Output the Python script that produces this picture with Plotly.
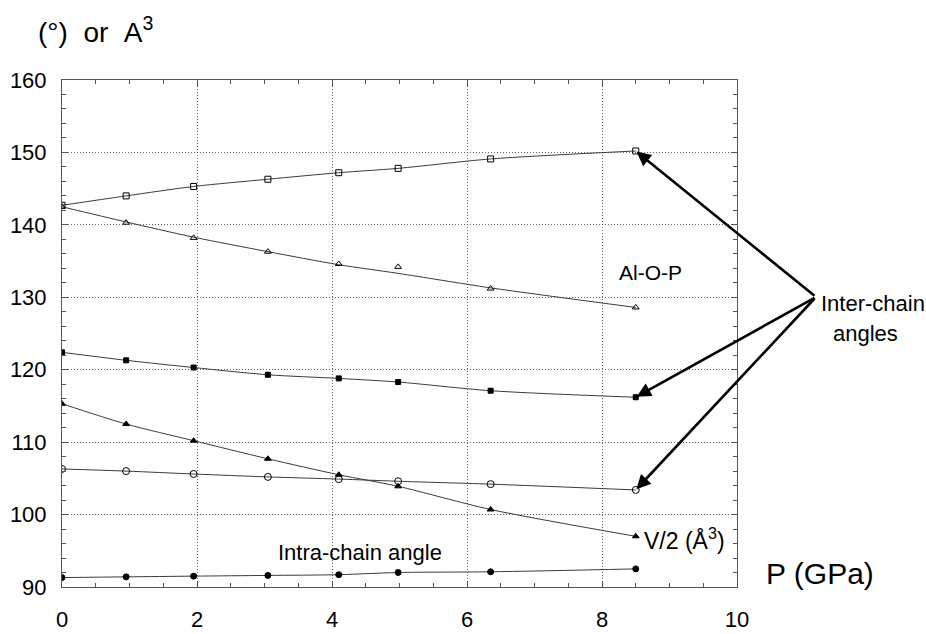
import plotly.graph_objects as go

# Pressure (GPa)
pressure = [0, 0.95, 1.95, 3.05, 4.1, 4.98, 6.35, 8.5]

# Series values (markers)
inter_open_sq = [142.7, 144.0, 145.3, 146.3, 147.2, 147.8, 149.1, 150.2]
alop_open_tri = [142.5, 140.3, 138.2, 136.3, 134.6, 134.2, 131.2, 128.6]
inter_fill_sq = [122.4, 121.3, 120.3, 119.3, 118.8, 118.3, 117.1, 116.2]
v_half = [115.3, 112.5, 110.2, 107.7, 105.5, 103.9, 100.7, 97.0]
inter_open_circ = [106.3, 106.0, 105.6, 105.2, 104.9, 104.6, 104.2, 103.4]
intra_angle = [91.3, 91.4, 91.5, 91.6, 91.7, 92.0, 92.1, 92.5]

# Fitted curve values (where they differ from markers)
alop_line = [142.5, 140.4, 138.3, 136.3, 134.5, 133.3, 131.3, 128.6]

x_ticks = [0, 2, 4, 6, 8, 10]
y_ticks = [90, 100, 110, 120, 130, 140, 150, 160]

series = [
    (inter_open_sq, inter_open_sq, "square-open", 6),
    (alop_open_tri, alop_line, "triangle-up-open", 6),
    (inter_fill_sq, inter_fill_sq, "square", 5),
    (v_half, v_half, "triangle-up", 6),
    (inter_open_circ, inter_open_circ, "circle-open", 7),
    (intra_angle, intra_angle, "circle", 6),
]

fig = go.Figure()
for vals, line_vals, sym, sz in series:
    fig.add_trace(go.Scatter(
        x=pressure, y=line_vals, mode="lines",
        line=dict(color="#3a3a3a", width=1, shape="spline", smoothing=0.8),
        showlegend=False, hoverinfo="skip",
    ))
    fig.add_trace(go.Scatter(
        x=pressure, y=vals, mode="markers",
        marker=dict(symbol=sym, size=sz, color="black",
                    line=dict(color="black", width=1)),
        showlegend=False, hoverinfo="skip",
    ))

axis_common = dict(
    showline=True, linecolor="#555555", linewidth=1, mirror="ticks",
    ticks="inside", ticklen=6, tickcolor="#555555",
    showgrid=True, gridcolor="#666666", gridwidth=1, griddash="1px,2px",
    zeroline=False, automargin=False,
    tickfont=dict(family="Liberation Sans", size=22, color="black"),
)

fig.update_xaxes(range=[0, 10], tickvals=x_ticks, ticktext=[str(v) for v in x_ticks],
                 minor=dict(dtick=0.5, tick0=0, ticks="inside", ticklen=4, tickcolor="#555555", showgrid=False),
                 ticklabelstandoff=13, **axis_common)
fig.update_yaxes(range=[90, 160], tickvals=y_ticks, ticktext=[str(v) for v in y_ticks],
                 minor=dict(dtick=2, tick0=90, ticks="inside", ticklen=4, tickcolor="#555555", showgrid=False),
                 ticklabelstandoff=10, **axis_common)

L, R, T, B = 62, 189, 80, 47
W, H = 926, 634
pw, ph = W - L - R, H - T - B

def px(xp):
    return (xp - L) / pw

def py(yp):
    return (H - B - yp) / ph

annotations = [
    dict(text="(°)&nbsp;&nbsp;or&nbsp;&nbsp;A<sup>3</sup>", x=px(36), y=py(30), xref="paper", yref="paper",
         xanchor="left", yanchor="middle", showarrow=False,
         font=dict(family="Liberation Sans", size=28, color="black")),
    dict(text="P (GPa)", x=px(764), y=py(573), xref="paper", yref="paper",
         xanchor="left", yanchor="middle", showarrow=False,
         font=dict(family="Liberation Sans", size=30, color="black")),
    dict(text="Al-O-P", x=px(617), y=py(272), xref="paper", yref="paper",
         xanchor="left", yanchor="middle", showarrow=False,
         font=dict(family="Liberation Sans", size=21, color="black")),
    dict(text="Inter-chain", x=px(819), y=py(303), xref="paper", yref="paper",
         xanchor="left", yanchor="middle", showarrow=False,
         font=dict(family="Liberation Sans", size=22, color="black")),
    dict(text="angles", x=px(865), y=py(333), xref="paper", yref="paper",
         xanchor="center", yanchor="middle", showarrow=False,
         font=dict(family="Liberation Sans", size=22, color="black")),
    dict(text="V/2 (Å<sup>3</sup>)", x=px(642), y=py(539), xref="paper", yref="paper",
         xanchor="left", yanchor="middle", showarrow=False,
         font=dict(family="Liberation Sans", size=23, color="black")),
    dict(text="Intra-chain angle", x=px(360), y=py(552), xref="paper", yref="paper",
         xanchor="center", yanchor="middle", showarrow=False,
         font=dict(family="Liberation Sans", size=22, color="black")),
]

x_per_px = 10 / pw
y_per_px = 70 / ph
tail_dx = (816 - L) * x_per_px
tail_dy = 160 - (297 - T) * y_per_px
for yv in [inter_open_sq[-1], inter_fill_sq[-1], inter_open_circ[-1]]:
    annotations.append(dict(
        x=pressure[-1], y=yv, xref="x", yref="y",
        ax=tail_dx, ay=tail_dy, axref="x", ayref="y",
        text="", showarrow=True, arrowhead=2, arrowsize=1.1,
        arrowwidth=2.6, arrowcolor="black", standoff=1,
    ))

fig.update_layout(
    width=W, height=H,
    margin=dict(l=L, r=R, t=T, b=B),
    paper_bgcolor="white", plot_bgcolor="white",
    annotations=annotations,
)

fig.write_html("out.html")
